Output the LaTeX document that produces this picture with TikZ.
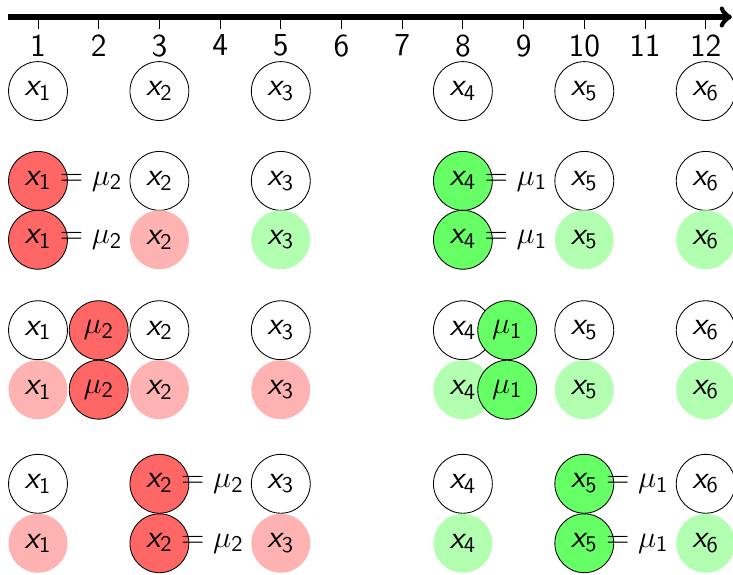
\documentclass[tikz,border=0pt]{standalone}
\usepackage{amsmath,amssymb}
\usepackage{tikz}
\usetikzlibrary{arrows}

% sans slanted point names
\newcommand{\xv}[1]{\textsf{\slshape x}_{\textsf{#1}}}
\newcommand{\mv}[1]{\mu_{\textsf{#1}}}

\begin{document}
\begin{tikzpicture}[
    pt/.style={circle,minimum size=0.97cm,inner sep=0pt,font=\fontsize{15}{18}\selectfont},
    free/.style={pt,draw},
    cl1/.style={pt,draw,fill=green!60},
    cl2/.style={pt,draw,fill=red!60},
    in1/.style={pt,fill=green!30},
    in2/.style={pt,fill=red!30}]
    \useasboundingbox (0.374,0.28) rectangle (12.45,-9.18);
    % number line
    \coordinate (axs) at (0.5,0);
    \coordinate (axe) at (12.43,0);
    \draw[line width=2.4pt,->] (axs) -- (axe);
    \foreach \i in {1,...,12}
      \draw (\i,0) -- (\i,-0.2) node[below=-1pt,font=\fontsize{15}{18}\selectfont\sffamily] {\i};
    % data points
    \foreach \p/\n in {1/1,3/2,5/3,8/4,10/5,12/6}
      \node[free] (a\n) at (\p,-1.22) {$\xv{\n}$};
    % first assignment
    \node[cl2] (b1) at (1,-2.70) {$\xv{1}\rlap{${}=\mv{2}$}$};
    \node[free] (b2) at (3,-2.70) {$\xv{2}$};
    \node[free] (b3) at (5,-2.70) {$\xv{3}$};
    \node[cl1] (b4) at (8,-2.70) {$\xv{4}\rlap{${}=\mv{1}$}$};
    \node[free] (b5) at (10,-2.70) {$\xv{5}$};
    \node[free] (b6) at (12,-2.70) {$\xv{6}$};
    \node[cl2] (c1) at (1,-3.67) {$\xv{1}\rlap{${}=\mv{2}$}$};
    \node[in2] (c2) at (3,-3.67) {$\xv{2}$};
    \node[in1] (c3) at (5,-3.67) {$\xv{3}$};
    \node[cl1] (c4) at (8,-3.67) {$\xv{4}\rlap{${}=\mv{1}$}$};
    \node[in1] (c5) at (10,-3.67) {$\xv{5}$};
    \node[in1] (c6) at (12,-3.67) {$\xv{6}$};
    % updated means
    \node[free] (d1) at (1,-5.16) {$\xv{1}$};
    \node[free] (d2) at (3,-5.16) {$\xv{2}$};
    \node[free] (d3) at (5,-5.16) {$\xv{3}$};
    \node[free] (d4) at (8,-5.16) {$\xv{4}$};
    \node[free] (d5) at (10,-5.16) {$\xv{5}$};
    \node[free] (d6) at (12,-5.16) {$\xv{6}$};
    \node[cl2] (dm2) at (2,-5.16) {$\mv{2}$};
    \node[cl1] (dm1) at (8.73,-5.16) {$\mv{1}$};
    \node[in2] (e1) at (1,-6.14) {$\xv{1}$};
    \node[in2] (e2) at (3,-6.14) {$\xv{2}$};
    \node[in2] (e3) at (5,-6.14) {$\xv{3}$};
    \node[in1] (e4) at (8,-6.14) {$\xv{4}$};
    \node[in1] (e5) at (10,-6.14) {$\xv{5}$};
    \node[in1] (e6) at (12,-6.14) {$\xv{6}$};
    \node[cl2] (em2) at (2,-6.14) {$\mv{2}$};
    \node[cl1] (em1) at (8.73,-6.14) {$\mv{1}$};
    % second assignment
    \node[free] (f1) at (1,-7.69) {$\xv{1}$};
    \node[cl2] (f2) at (3,-7.69) {$\xv{2}\rlap{${}=\mv{2}$}$};
    \node[free] (f3) at (5,-7.69) {$\xv{3}$};
    \node[free] (f4) at (8,-7.69) {$\xv{4}$};
    \node[cl1] (f5) at (10,-7.69) {$\xv{5}\rlap{${}=\mv{1}$}$};
    \node[free] (f6) at (12,-7.69) {$\xv{6}$};
    \node[in2] (g1) at (1,-8.67) {$\xv{1}$};
    \node[cl2] (g2) at (3,-8.67) {$\xv{2}\rlap{${}=\mv{2}$}$};
    \node[in2] (g3) at (5,-8.67) {$\xv{3}$};
    \node[in1] (g4) at (8,-8.67) {$\xv{4}$};
    \node[cl1] (g5) at (10,-8.67) {$\xv{5}\rlap{${}=\mv{1}$}$};
    \node[in1] (g6) at (12,-8.67) {$\xv{6}$};
\end{tikzpicture}
\end{document}
